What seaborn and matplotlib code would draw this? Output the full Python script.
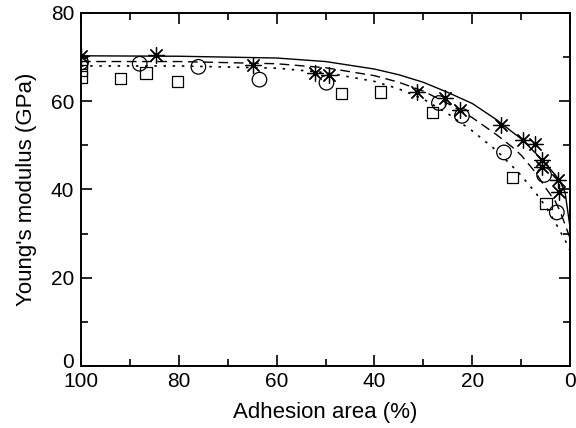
import matplotlib
matplotlib.use("Agg")
import matplotlib.pyplot as plt
import matplotlib.transforms as mtransforms
import seaborn as sns
import pandas as pd
from matplotlib.ticker import MultipleLocator

sns.set_theme(style="ticks")
plt.rcParams['font.family'] = ['Liberation Sans', 'DejaVu Sans']

# Measured data
star_x = [100, 84.6, 64.8, 52.2, 49.2, 31.2, 25.6, 22.5, 14.1, 9.7, 7.2, 5.7, 5.8, 2.4, 2.2]
star_y = [70.3, 70.5, 68.2, 66.4, 66.0, 62.1, 60.8, 58.0, 54.6, 51.3, 50.2, 46.6, 45.2, 42.2, 39.4]

circ_x = [100, 88.0, 76.0, 63.5, 49.8, 26.8, 22.1, 13.5, 5.3, 2.7]
circ_y = [68.8, 68.5, 67.8, 64.9, 64.2, 59.6, 56.7, 48.4, 43.3, 34.8]

sq_x = [100, 100, 100, 92.0, 86.7, 80.3, 46.7, 38.7, 28.1, 11.7, 4.9]
sq_y = [68.5, 66.9, 65.5, 65.1, 66.4, 64.4, 61.7, 62.1, 57.4, 42.8, 36.8]

line_x = [100, 80, 60, 50, 40, 35, 30, 25, 20, 15, 12, 10, 7, 5, 3, 2, 1, 0]
solid_y = [70.3, 70.2, 69.8, 69.0, 67.3, 66.0, 64.3, 62.0, 59.5, 55.8, 53.2, 51.5, 48.2, 45.8, 43.3, 41.8, 39.3, 31.5]
dashed_y = [69.0, 69.0, 68.5, 67.6, 65.8, 64.3, 62.3, 59.5, 56.3, 52.4, 49.8, 47.8, 43.8, 40.4, 37.3, 35.0, 32.0, 29.0]
dotted_y = [68.0, 68.0, 67.5, 66.5, 64.5, 62.8, 60.5, 57.2, 53.3, 48.8, 45.5, 43.2, 39.2, 36.2, 32.5, 30.5, 28.5, 26.2]

x_label = "Adhesion area (%)"
y_label = "Young's modulus (GPa)"

fig = plt.figure(figsize=(5.76, 4.28), dpi=100)
ax = fig.add_axes([81/576, 1-366/428, (570-81)/576, (366-13)/428])

lines = pd.DataFrame({"x": line_x, "solid": solid_y, "dashed": dashed_y, "dotted": dotted_y})
sns.lineplot(data=lines, x="x", y="solid", ax=ax, color="black", lw=1.0, linestyle="-", sort=False)
sns.lineplot(data=lines, x="x", y="dashed", ax=ax, color="black", lw=1.0, linestyle=(0, (7, 4)), sort=False)
sns.lineplot(data=lines, x="x", y="dotted", ax=ax, color="black", lw=1.2, linestyle=(0, (1.5, 4)), sort=False)

sns.scatterplot(x=sq_x, y=sq_y, ax=ax, marker="s", s=65, facecolor="none",
                edgecolor="black", linewidth=0.9, zorder=5)
sns.scatterplot(x=circ_x, y=circ_y, ax=ax, marker="o", s=110, facecolor="none",
                edgecolor="black", linewidth=0.9, zorder=5)
sns.scatterplot(x=star_x, y=star_y, ax=ax, marker=(8, 2, 0), s=130, color="black",
                linewidth=0.9, zorder=6)

ax.set_xlim(100, 0)
ax.set_ylim(0, 80)
ax.xaxis.set_major_locator(MultipleLocator(20))
ax.xaxis.set_minor_locator(MultipleLocator(10))
ax.yaxis.set_major_locator(MultipleLocator(20))
ax.yaxis.set_minor_locator(MultipleLocator(10))
ax.tick_params(which="both", direction="in", top=True, right=True, colors="black",
               labelsize=15, width=1.2)
ax.tick_params(which="major", length=8)
ax.tick_params(axis="x", which="major", pad=4)
ax.tick_params(axis="y", which="major", pad=5)
ax.tick_params(which="minor", length=5)
for s in ax.spines.values():
    s.set_linewidth(1.4)
    s.set_color("black")
ax.set_xlabel(x_label, fontsize=16, labelpad=8, color="black")
ax.set_ylabel(y_label, fontsize=16, labelpad=10, color="black")

# nudge the y "0" tick label up slightly so it sits above the "100"
fig.canvas.draw()
for lab in ax.get_yticklabels():
    if lab.get_text() == "0":
        off = mtransforms.ScaledTranslation(0, 4/72, fig.dpi_scale_trans)
        lab.set_transform(lab.get_transform() + off)

fig.savefig("out.png", dpi=100)
